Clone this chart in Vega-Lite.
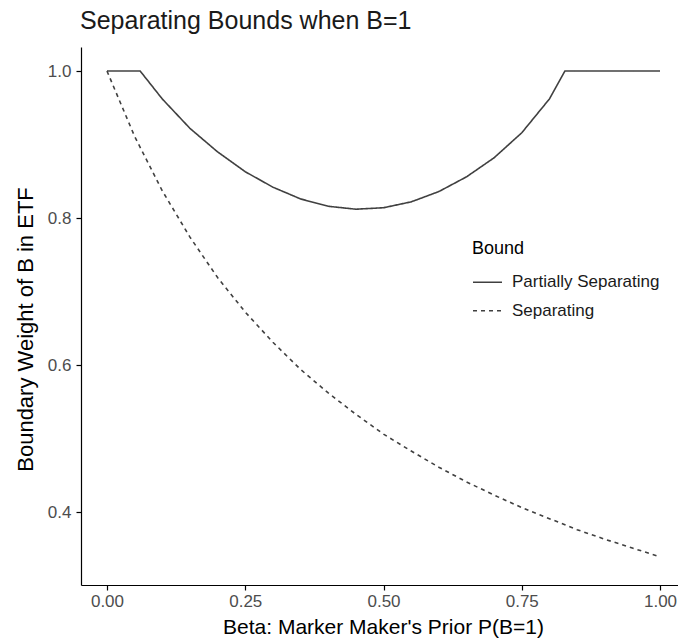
{
  "$schema": "https://vega.github.io/schema/vega-lite/v6.json",
  "width": 597,
  "height": 538,
  "autosize": {"type": "none"},
  "padding": {"left": 81, "top": 47, "right": 0, "bottom": 55},
  "background": "white",
  "config": {
    "font": "Liberation Sans",
    "view": {"stroke": null}
  },
  "title": {
    "text": "Separating Bounds when B=1",
    "anchor": "start",
    "frame": "group",
    "fontSize": 25,
    "fontWeight": "normal",
    "color": "#1a1a1a",
    "baseline": "alphabetic",
    "offset": -7,
    "dx": -1
  },
  "data": {
    "values": [
      {"beta": 0.0, "value": 1.0, "bound": "Partially Separating"},
      {"beta": 0.06, "value": 1.0, "bound": "Partially Separating"},
      {"beta": 0.1, "value": 0.962, "bound": "Partially Separating"},
      {"beta": 0.15, "value": 0.922, "bound": "Partially Separating"},
      {"beta": 0.2, "value": 0.89, "bound": "Partially Separating"},
      {"beta": 0.25, "value": 0.863, "bound": "Partially Separating"},
      {"beta": 0.3, "value": 0.842, "bound": "Partially Separating"},
      {"beta": 0.35, "value": 0.826, "bound": "Partially Separating"},
      {"beta": 0.4, "value": 0.816, "bound": "Partially Separating"},
      {"beta": 0.45, "value": 0.812, "bound": "Partially Separating"},
      {"beta": 0.5, "value": 0.814, "bound": "Partially Separating"},
      {"beta": 0.55, "value": 0.822, "bound": "Partially Separating"},
      {"beta": 0.6, "value": 0.836, "bound": "Partially Separating"},
      {"beta": 0.65, "value": 0.856, "bound": "Partially Separating"},
      {"beta": 0.7, "value": 0.882, "bound": "Partially Separating"},
      {"beta": 0.75, "value": 0.916, "bound": "Partially Separating"},
      {"beta": 0.8, "value": 0.962, "bound": "Partially Separating"},
      {"beta": 0.828, "value": 1.0, "bound": "Partially Separating"},
      {"beta": 1.0, "value": 1.0, "bound": "Partially Separating"},
      {"beta": 0.0, "value": 1.0, "bound": "Separating"},
      {"beta": 0.05, "value": 0.911, "bound": "Separating"},
      {"beta": 0.1, "value": 0.837, "bound": "Separating"},
      {"beta": 0.15, "value": 0.774, "bound": "Separating"},
      {"beta": 0.2, "value": 0.719, "bound": "Separating"},
      {"beta": 0.25, "value": 0.672, "bound": "Separating"},
      {"beta": 0.3, "value": 0.631, "bound": "Separating"},
      {"beta": 0.35, "value": 0.594, "bound": "Separating"},
      {"beta": 0.4, "value": 0.562, "bound": "Separating"},
      {"beta": 0.45, "value": 0.533, "bound": "Separating"},
      {"beta": 0.5, "value": 0.506, "bound": "Separating"},
      {"beta": 0.55, "value": 0.483, "bound": "Separating"},
      {"beta": 0.6, "value": 0.461, "bound": "Separating"},
      {"beta": 0.65, "value": 0.441, "bound": "Separating"},
      {"beta": 0.7, "value": 0.423, "bound": "Separating"},
      {"beta": 0.75, "value": 0.406, "bound": "Separating"},
      {"beta": 0.8, "value": 0.391, "bound": "Separating"},
      {"beta": 0.85, "value": 0.376, "bound": "Separating"},
      {"beta": 0.9, "value": 0.363, "bound": "Separating"},
      {"beta": 0.95, "value": 0.351, "bound": "Separating"},
      {"beta": 1.0, "value": 0.339, "bound": "Separating"}
    ]
  },
  "mark": {"type": "line", "color": "#404040", "strokeWidth": 1.6, "clip": true},
  "encoding": {
    "x": {
      "field": "beta",
      "type": "quantitative",
      "scale": {"domain": [-0.047, 1.0325], "nice": false, "zero": false},
      "axis": {
        "title": "Beta: Marker Maker's Prior P(B=1)",
        "values": [0, 0.25, 0.5, 0.75, 1],
        "format": ".2f",
        "grid": false,
        "domainColor": "#000000",
        "domainWidth": 1.2,
        "tickColor": "#000000",
        "tickWidth": 1.2,
        "tickSize": 5,
        "labelFontSize": 17,
        "labelColor": "#4d4d4d",
        "labelPadding": 3,
        "labelFlush": false,
        "titleFontSize": 21,
        "titleFontWeight": "normal",
        "titleColor": "#000000",
        "titleBaseline": "alphabetic",
        "titleAlign": "center",
        "titleX": 302,
        "titleY": 48
      }
    },
    "y": {
      "field": "value",
      "type": "quantitative",
      "scale": {"domain": [0.3007, 1.0327], "nice": false, "zero": false},
      "axis": {
        "title": "Boundary Weight of B in ETF",
        "values": [0.4, 0.6, 0.8, 1.0],
        "format": ".1f",
        "grid": false,
        "domainColor": "#000000",
        "domainWidth": 1.2,
        "tickColor": "#000000",
        "tickWidth": 1.2,
        "tickSize": 5,
        "labelFontSize": 17,
        "labelColor": "#4d4d4d",
        "labelPadding": 5,
        "titleFontSize": 22,
        "titleFontWeight": "normal",
        "titleColor": "#000000",
        "titleAngle": -90,
        "titleBaseline": "alphabetic",
        "titleAlign": "center",
        "titleX": -49,
        "titleY": 282
      }
    },
    "strokeDash": {
      "field": "bound",
      "type": "nominal",
      "scale": {"domain": ["Partially Separating", "Separating"], "range": [[1, 0], [4, 4]]},
      "legend": {
        "title": "Bound",
        "orient": "none",
        "legendX": 391,
        "legendY": 193,
        "padding": 0,
        "titleFontSize": 18,
        "titleFontWeight": "normal",
        "titleColor": "#000000",
        "titlePadding": 8.7,
        "labelFontSize": 17,
        "labelColor": "#1a1a1a",
        "labelOffset": 9,
        "symbolType": "stroke",
        "symbolSize": 841,
        "symbolStrokeWidth": 1.5,
        "symbolStrokeColor": "#404040",
        "rowPadding": 4.5
      }
    }
  }
}
